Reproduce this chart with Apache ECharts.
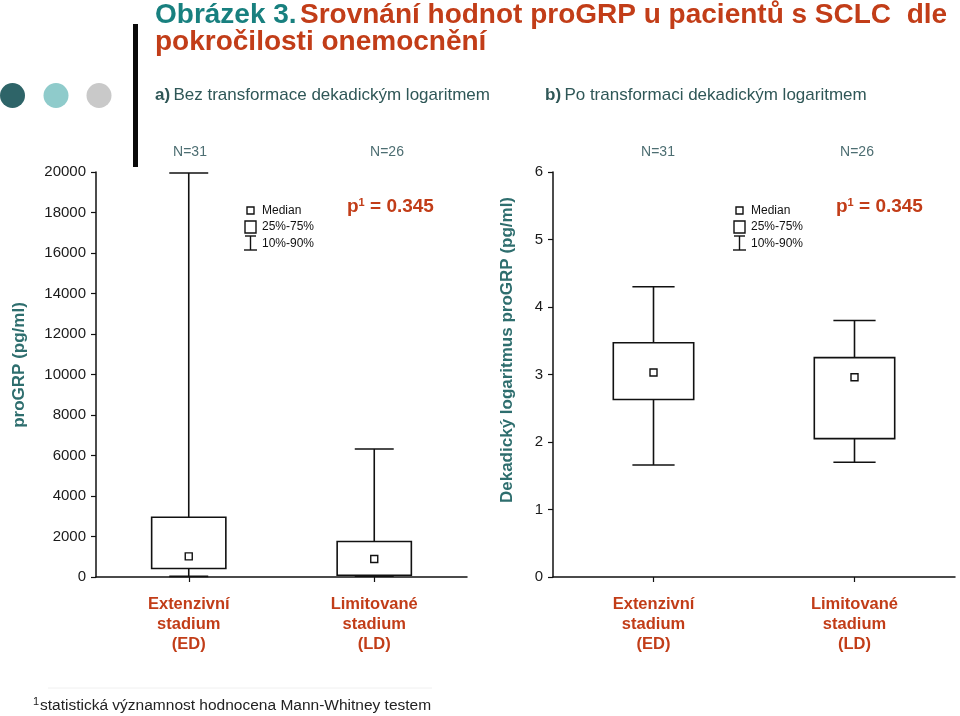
<!DOCTYPE html>
<html>
<head>
<meta charset="utf-8">
<script src="https://cdn.jsdelivr.net/npm/echarts@6/dist/echarts.min.js"></script>
<style>
html,body{margin:0;padding:0;background:#fff;}
#chart{width:960px;height:716px;}
</style>
</head>
<body>
<div id="chart"></div>
<script>
// ---- data ----
const categories = ['Extenzivní\nstadium\n(ED)', 'Limitované\nstadium\n(LD)'];
const nLabels = ['N=31', 'N=26'];
// a) raw values (pg/ml): 10th pct, 25th, median, 75th, 90th
const rawP10 = [30, 40];
const rawQ1 = [420, 90];
const rawMedian = [1020, 890];
const rawQ3 = [2950, 1750];
const rawP90 = [19950, 6320];
// b) log10 values
const logP10 = [1.66, 1.70];
const logQ1 = [2.63, 2.05];
const logMedian = [3.03, 2.96];
const logQ3 = [3.47, 3.25];
const logP90 = [4.30, 3.80];
const rawTicks = { min: 0, max: 20000, interval: 2000 };
const logTicks = { min: 0, max: 6, interval: 1 };
const legendLabels = ['Median', '25%-75%', '10%-90%'];
const pValueText = '0.345';

const FONT = 'Arial, "Liberation Sans", sans-serif';
const ORANGE = '#c23d18';
const TEAL = '#18807f';
const SLATE = '#2f5757';

function build(p10, q1, med, q3, p90) {
  return categories.map((c, i) => [i, p10[i], q1[i], med[i], q3[i], p90[i]]);
}

function renderBox(params, api) {
  const c = api.value(0);
  const pLo = api.coord([c, api.value(1)]);
  const pQ1 = api.coord([c, api.value(2)]);
  const pMed = api.coord([c, api.value(3)]);
  const pQ3 = api.coord([c, api.value(4)]);
  const pHi = api.coord([c, api.value(5)]);
  const band = api.size([1, 0])[0];
  const bw = band * 0.4, cw = band * 0.21;
  const x = pQ1[0];
  const st = { stroke: '#111', lineWidth: 1.6, fill: null };
  return {
    type: 'group',
    children: [
      { type: 'line', shape: { x1: x, y1: pHi[1], x2: x, y2: pQ3[1] }, style: st },
      { type: 'line', shape: { x1: x - cw / 2, y1: pHi[1], x2: x + cw / 2, y2: pHi[1] }, style: st },
      { type: 'line', shape: { x1: x, y1: pQ1[1], x2: x, y2: pLo[1] }, style: st },
      { type: 'line', shape: { x1: x - cw / 2, y1: pLo[1], x2: x + cw / 2, y2: pLo[1] }, style: st },
      { type: 'rect', shape: { x: x - bw / 2, y: pQ3[1], width: bw, height: pQ1[1] - pQ3[1] }, style: { stroke: '#111', lineWidth: 1.6, fill: '#fff' } },
      { type: 'rect', shape: { x: x - 3.5, y: pMed[1] - 3.5, width: 7, height: 7 }, style: { stroke: '#111', lineWidth: 1.4, fill: '#fff' } }
    ]
  };
}

const axisLine = { show: true, lineStyle: { color: '#111', width: 1.5 } };
const axisTick = { show: true, length: 5, lineStyle: { color: '#111', width: 1.2 } };

function xAxisCfg(gi) {
  return {
    type: 'category', gridIndex: gi, data: categories,
    axisLine, axisTick: Object.assign({ alignWithLabel: true }, axisTick),
    axisLabel: { margin: 17, color: ORANGE, fontFamily: FONT, fontWeight: 'bold', fontSize: 16.5, lineHeight: 20 },
    splitLine: { show: false }
  };
}
function yAxisCfg(gi, t) {
  return {
    type: 'value', gridIndex: gi, min: t.min, max: t.max, interval: t.interval,
    axisLine, axisTick,
    axisLabel: { margin: 10, color: '#1a1a1a', fontFamily: FONT, fontSize: 15, formatter: v => String(v) },
    splitLine: { show: false }
  };
}

function legendGroup(dx) {
  const st = { stroke: '#111', lineWidth: 1.4, fill: null };
  const tx = (t, y) => ({ type: 'text', x: 262 + dx, y, style: { text: t, fill: '#111', font: '12px ' + FONT, textVerticalAlign: 'middle' } });
  return [
    { type: 'rect', shape: { x: 247 + dx, y: 207, width: 7, height: 7 }, style: st },
    tx(legendLabels[0], 211),
    { type: 'rect', shape: { x: 245 + dx, y: 221, width: 11, height: 12 }, style: st },
    tx(legendLabels[1], 227),
    { type: 'line', shape: { x1: 250.5 + dx, y1: 236, x2: 250.5 + dx, y2: 250 }, style: st },
    { type: 'line', shape: { x1: 245 + dx, y1: 236, x2: 256 + dx, y2: 236 }, style: st },
    { type: 'line', shape: { x1: 244 + dx, y1: 250, x2: 257 + dx, y2: 250 }, style: st },
    tx(legendLabels[2], 244),
    {
      type: 'text', x: 347 + dx, y: 207,
      style: {
        text: '{p|p}{s|1}{p| = ' + pValueText + '}',
        textVerticalAlign: 'middle',
        rich: {
          p: { fontFamily: FONT, fontWeight: 'bold', fontSize: 19, fill: ORANGE, color: ORANGE },
          s: { fontFamily: FONT, fontWeight: 'bold', fontSize: 11, fill: ORANGE, color: ORANGE, verticalAlign: 'top' }
        }
      }
    }
  ];
}

function nText(t, x) {
  return { type: 'text', x, y: 152, style: { text: t, fill: '#4d6e72', font: '14px ' + FONT, textAlign: 'center', textVerticalAlign: 'middle' } };
}

const chart = echarts.init(document.getElementById('chart'), null, { renderer: 'canvas' });
chart.setOption({
  backgroundColor: '#fff',
  animation: false,
  grid: [
    { left: 96, right: 493, top: 172, bottom: 139 },
    { left: 553, right: 5, top: 172, bottom: 139 }
  ],
  xAxis: [xAxisCfg(0), xAxisCfg(1)],
  yAxis: [yAxisCfg(0, rawTicks), yAxisCfg(1, logTicks)],
  series: [
    { type: 'custom', xAxisIndex: 0, yAxisIndex: 0, renderItem: renderBox, encode: { x: 0, y: [1, 2, 3, 4, 5] }, data: build(rawP10, rawQ1, rawMedian, rawQ3, rawP90) },
    { type: 'custom', xAxisIndex: 1, yAxisIndex: 1, renderItem: renderBox, encode: { x: 0, y: [1, 2, 3, 4, 5] }, data: build(logP10, logQ1, logMedian, logQ3, logP90) }
  ],
  graphic: [
    // title
    {
      type: 'text', x: 155, y: 15,
      style: {
        text: '{a|Obrázek 3.} {b|Srovnání hodnot proGRP u pacientů s SCLC  dle}',
        textVerticalAlign: 'middle',
        rich: {
          a: { fontFamily: FONT, fontWeight: 'bold', fontSize: 28, fill: TEAL, color: TEAL },
          b: { fontFamily: FONT, fontWeight: 'bold', fontSize: 28, fill: ORANGE, color: ORANGE }
        }
      }
    },
    { type: 'text', x: 155, y: 42, style: { text: 'pokročilosti onemocnění', fill: ORANGE, font: 'bold 28px ' + FONT, textVerticalAlign: 'middle' } },
    // decorative circles and bar
    { type: 'circle', shape: { cx: 12.5, cy: 95.5, r: 12.5 }, style: { fill: '#2e6468' } },
    { type: 'circle', shape: { cx: 56, cy: 95.5, r: 12.5 }, style: { fill: '#8fcbcb' } },
    { type: 'circle', shape: { cx: 99, cy: 95.5, r: 12.5 }, style: { fill: '#c9c9c9' } },
    { type: 'rect', shape: { x: 133, y: 24, width: 5, height: 143 }, style: { fill: '#0a0a0a' } },
    // subtitles
    {
      type: 'text', x: 155, y: 95,
      style: {
        text: '{b|a)} {n|Bez transformace dekadickým logaritmem}', textVerticalAlign: 'middle',
        rich: {
          b: { fontFamily: FONT, fontWeight: 'bold', fontSize: 17, fill: SLATE, color: SLATE },
          n: { fontFamily: FONT, fontSize: 17, fill: SLATE, color: SLATE }
        }
      }
    },
    {
      type: 'text', x: 545, y: 95,
      style: {
        text: '{b|b)} {n|Po transformaci dekadickým logaritmem}', textVerticalAlign: 'middle',
        rich: {
          b: { fontFamily: FONT, fontWeight: 'bold', fontSize: 17, fill: SLATE, color: SLATE },
          n: { fontFamily: FONT, fontSize: 17, fill: SLATE, color: SLATE }
        }
      }
    },
    nText(nLabels[0], 190), nText(nLabels[1], 387), nText(nLabels[0], 658), nText(nLabels[1], 857),
    // axis titles
    { type: 'text', x: 19, y: 365, rotation: Math.PI / 2, style: { text: 'proGRP (pg/ml)', fill: '#2e6e6e', font: 'bold 17px ' + FONT, textAlign: 'center', textVerticalAlign: 'middle' } },
    { type: 'text', x: 507, y: 350, rotation: Math.PI / 2, style: { text: 'Dekadický logaritmus proGRP (pg/ml)', fill: '#2e6e6e', font: 'bold 17px ' + FONT, textAlign: 'center', textVerticalAlign: 'middle' } },
    ...legendGroup(0),
    ...legendGroup(489),
    // footnote
    { type: 'line', shape: { x1: 48, y1: 688, x2: 432, y2: 688 }, style: { stroke: '#f0f0f0', lineWidth: 1 } },
    { type: 'text', x: 33, y: 702, style: { text: '1', fill: '#222', font: '11px ' + FONT, textVerticalAlign: 'middle' } },
    { type: 'text', x: 40, y: 706, style: { text: 'statistická významnost hodnocena Mann-Whitney testem', fill: '#222', font: '15.5px ' + FONT, textVerticalAlign: 'middle' } }
  ]
});
</script>
</body>
</html>
